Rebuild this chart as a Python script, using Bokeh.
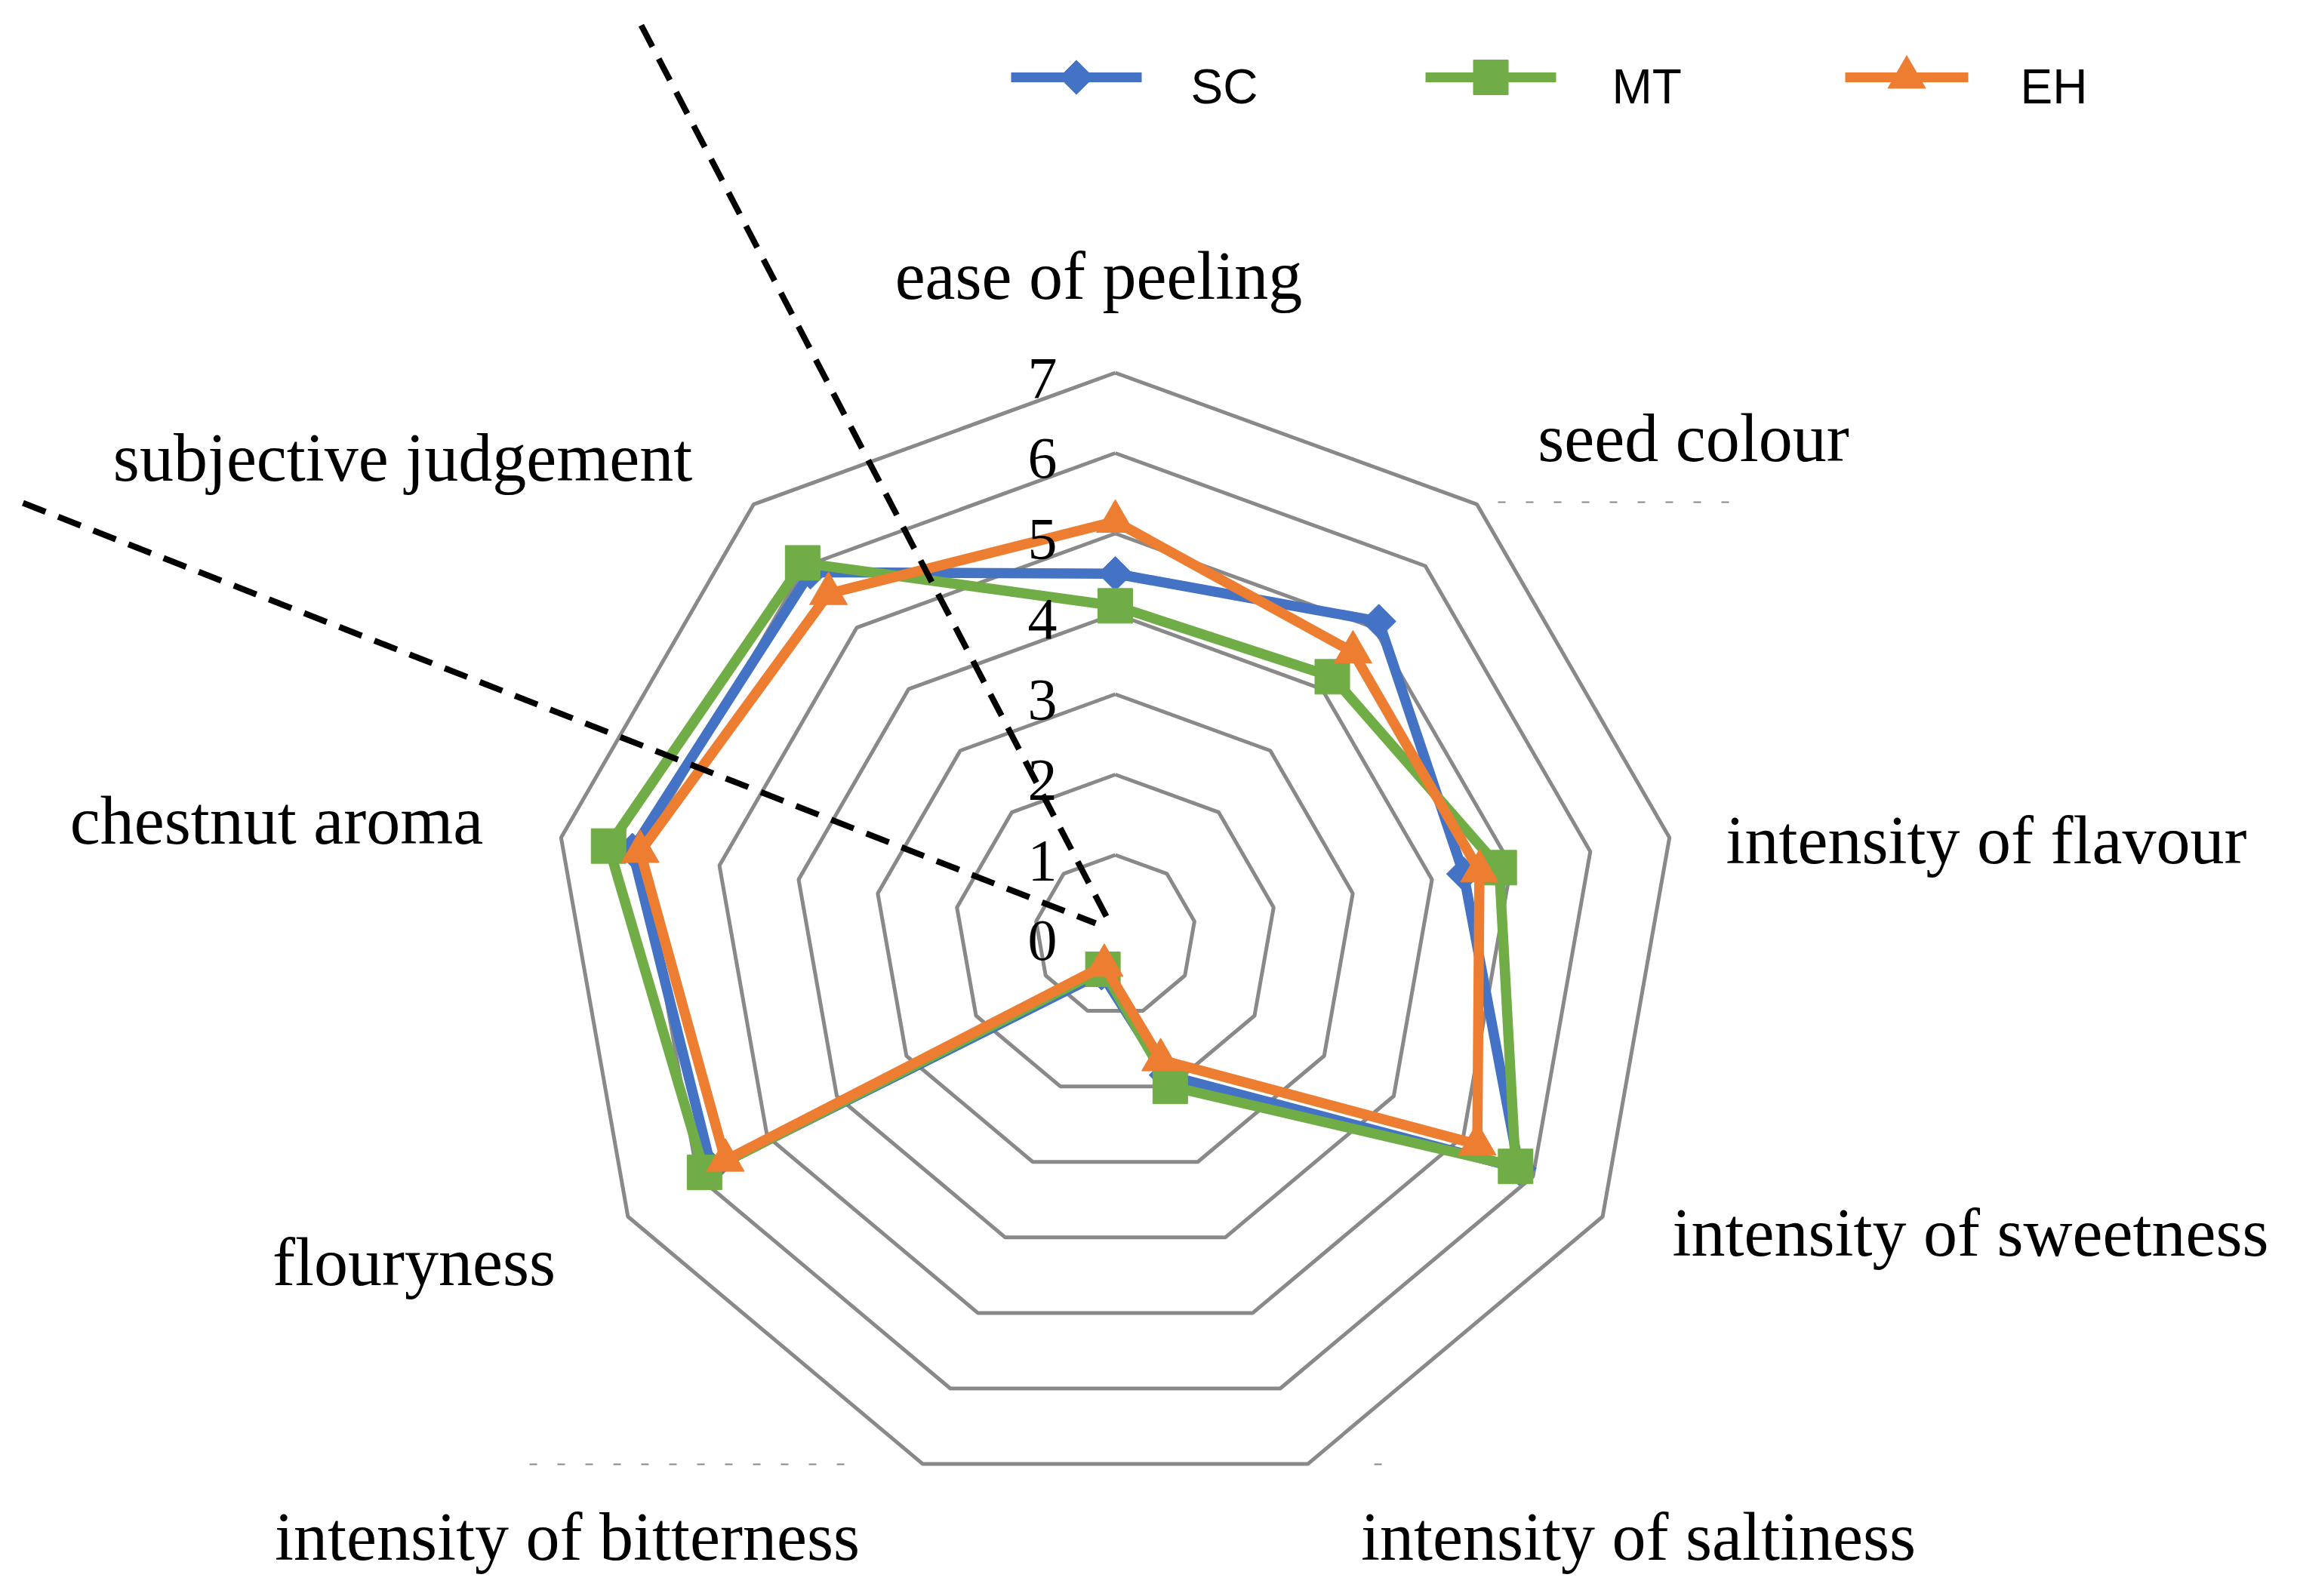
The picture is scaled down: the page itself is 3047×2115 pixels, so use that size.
import math
from bokeh.plotting import figure
from bokeh.models import Range1d
from bokeh.embed import file_html
from bokeh.resources import INLINE
from bokeh.core.properties import value

# ---------------- data ----------------
axis_labels = [
    "ease of peeling", "seed colour", "intensity of flavour",
    "intensity of sweetness", "intensity of saltiness",
    "intensity of bitterness", "flouryness", "chestnut aroma",
    "subjective judgement",
]
series_names = ["SC", "MT", "EH"]
sc_values = [4.5, 5.1, 4.4, 5.8, 1.85, 0.5, 5.8, 6.1, 5.9]
mt_values = [4.1, 4.2, 4.85, 5.75, 2.0, 0.45, 5.9, 6.4, 6.05]
eh_values = [5.15, 4.6, 4.6, 5.2, 1.65, 0.4, 5.6, 6.0, 5.55]
tick_values = [0, 1, 2, 3, 4, 5, 6, 7]
tick_labels = ["0", "1", "2", "3", "4", "5", "6", "7"]

# ---------------- style / layout ----------------
colors = {"SC": "#4472C4", "MT": "#70AD47", "EH": "#ED7D31"}
GRID_COLOR = "#898989"
SERIF = value("Liberation Serif")
SANS = value("Liberation Sans")

W, H = 3031, 2099
ORIGIN = 4               # page offset used for the coordinate mapping
CX, CY = 1481, 1243      # radar centre on the page (px)
UNIT = 106.5             # px per value unit
TEXT_SHIFT = 20          # baseline correction (px, upward)


def px(sx, sy):
    """page pixel -> data coordinates"""
    return (sx - CX) / UNIT, (CY - sy) / UNIT


n = len(axis_labels)
angles = [2 * math.pi * i / n for i in range(n)]


def polar(vals):
    xs = [v * math.sin(a) for v, a in zip(vals, angles)]
    ys = [v * math.cos(a) for v, a in zip(vals, angles)]
    return xs + xs[:1], ys + ys[:1]


p = figure(
    width=W, height=H,
    x_range=Range1d((ORIGIN - CX) / UNIT, (ORIGIN + W - CX) / UNIT),
    y_range=Range1d((CY - (ORIGIN + H)) / UNIT, (CY - ORIGIN) / UNIT),
    output_backend="svg", toolbar_location=None,
    x_axis_type=None, y_axis_type=None, min_border=0,
)
p.grid.visible = False
p.outline_line_color = None
p.background_fill_color = "white"

# grid rings
ring_xs, ring_ys = [], []
for v in tick_values[1:]:
    xs, ys = polar([v] * n)
    ring_xs.append(xs)
    ring_ys.append(ys)
p.multi_line(ring_xs, ring_ys, line_color=GRID_COLOR, line_width=5)

# faint stray dashes present in the original
for (x0, y0), (x1, y1) in [
    (px(1988, 669), px(2312, 669)),
    (px(705, 1944), px(1145, 1944)),
    (px(1824, 1944), px(1836, 1944)),
]:
    p.line([x0, x1], [y0, y1], line_color="#555555", line_width=2,
           line_dash="10 27", line_alpha=0.7)

# data series
series_values = {"SC": sc_values, "MT": mt_values, "EH": eh_values}
marker_spec = {
    "SC": dict(marker="square", size=32, angle=math.pi / 4),
    "MT": dict(marker="square", size=46, angle=0),
    "EH": dict(marker="triangle", size=50, angle=0),
}
for name in series_names:
    xs, ys = polar(series_values[name])
    p.line(xs, ys, line_color=colors[name], line_width=13.5, line_join="miter")
    p.scatter(xs[:-1], ys[:-1], fill_color=colors[name], line_color=colors[name],
              line_width=1, **marker_spec[name])

# axis (category) labels
label_pos = [
    (1459, 389), (2247, 604), (2635, 1137), (2614, 1657), (2174, 2060),
    (755, 2060), (552, 1696), (370, 1111), (537, 630),
]
lx = [px(a, b - TEXT_SHIFT)[0] for a, b in label_pos]
ly = [px(a, b - TEXT_SHIFT)[1] for a, b in label_pos]
p.text(lx, ly, text=axis_labels, text_font=SERIF, text_font_size="90px",
       text_align="center", text_baseline="alphabetic", text_color="black")

# value tick labels (left of the top spoke)
tx = [px(1404, 0)[0]] * len(tick_values)
ty = [v - (27 - TEXT_SHIFT) / UNIT for v in tick_values]
p.text(tx, ty, text=tick_labels, text_font=SERIF, text_font_size="78px",
       text_align="right", text_baseline="alphabetic", text_color="black")

# legend (drawn by hand, top right)
legend_slots = {"SC": (1343, 1516, 1581), "MT": (1892, 2065, 2139),
                "EH": (2448, 2611, 2680)}
for name in series_names:
    a, b, t = legend_slots[name]
    (x0, yl), (x1, _) = px(a, 106), px(b, 106)
    p.line([x0, x1], [yl, yl], line_color=colors[name], line_width=13)
    p.scatter([(x0 + x1) / 2], [yl], fill_color=colors[name],
              line_color=colors[name], **marker_spec[name])
    tx0, ty0 = px(t, 136 - 18)
    p.text([tx0], [ty0], text=[name], text_font=SANS, text_font_size="64px",
           text_align="left", text_baseline="alphabetic", text_color="black")

# black dashed annotation lines
for (x0, y0), (x1, y1) in [
    (px(853, 37), px(1477, 1233)),
    (px(34, 670), px(1455, 1227)),
]:
    p.line([x0, x1], [y0, y1], line_color="black", line_width=8,
           line_dash="32 18")

open("out.html", "w").write(file_html(p, INLINE))
